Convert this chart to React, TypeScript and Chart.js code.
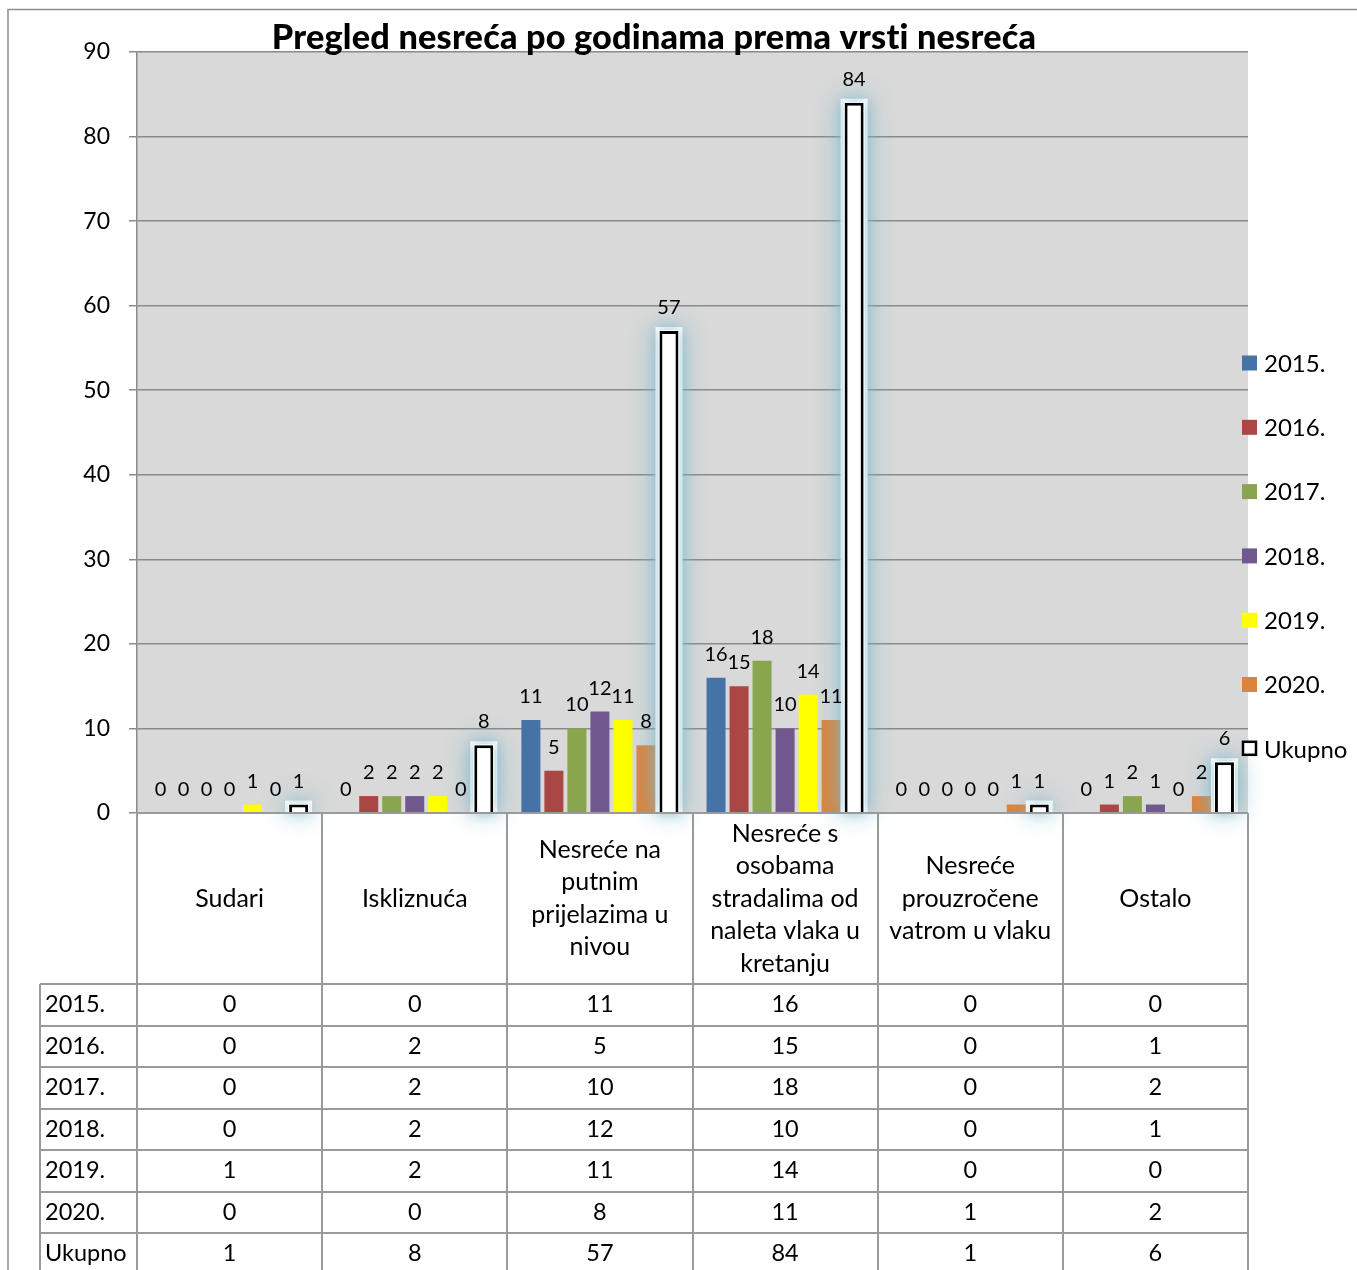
import React, { useEffect, useRef } from 'react';
import { Chart, registerables } from 'chart.js';

Chart.register(...registerables);

// ---------- data ----------
const titleText = 'Pregled nesreća po godinama prema vrsti nesreća';
const categories = [
  'Sudari',
  'Iskliznuća',
  'Nesreće na putnim prijelazima u nivou',
  'Nesreće s osobama stradalima od naleta vlaka u kretanju',
  'Nesreće prouzročene vatrom u vlaku',
  'Ostalo',
];
const categoryLines = [
  ['Sudari'],
  ['Iskliznuća'],
  ['Nesreće na', 'putnim', 'prijelazima u', 'nivou'],
  ['Nesreće s', 'osobama', 'stradalima od', 'naleta vlaka u', 'kretanju'],
  ['Nesreće', 'prouzročene', 'vatrom u vlaku'],
  ['Ostalo'],
];
const seriesNames = ['2015.', '2016.', '2017.', '2018.', '2019.', '2020.', 'Ukupno'];
const v2015 = [0, 0, 11, 16, 0, 0];
const v2016 = [0, 2, 5, 15, 0, 1];
const v2017 = [0, 2, 10, 18, 0, 2];
const v2018 = [0, 2, 12, 10, 0, 1];
const v2019 = [1, 2, 11, 14, 0, 0];
const v2020 = [0, 0, 8, 11, 1, 2];
const vUkupno = [1, 8, 57, 84, 1, 6];
const seriesValues = [v2015, v2016, v2017, v2018, v2019, v2020, vUkupno];
const seriesColors = ['#4572A7', '#AA4643', '#89A54E', '#71588F', '#FFFF00', '#DB843D', '#FFFFFF'];
const yMin = 0;
const yMax = 90;
const yStep = 10;

const FONT = 'Lato, "Noto Sans", sans-serif';
const LINE = '#9a9a9a';

const bgPlugin = {
  id: 'bgPlugin',
  beforeDraw(chart: any) {
    const { ctx, chartArea } = chart;
    ctx.save();
    ctx.fillStyle = '#ffffff';
    ctx.fillRect(0, 0, chart.width, chart.height);
    ctx.strokeStyle = '#8c8c8c';
    ctx.lineWidth = 1.5;
    ctx.beginPath();
    ctx.moveTo(8, chart.height);
    ctx.lineTo(8, 9.5);
    ctx.lineTo(chart.width, 9.5);
    ctx.stroke();
    ctx.fillStyle = '#d9d9d9';
    ctx.fillRect(chartArea.left, chartArea.top, chartArea.right - chartArea.left, chartArea.bottom - chartArea.top);
    ctx.restore();
  },
};

const glowLabelPlugin = {
  id: 'glowLabelPlugin',
  afterDatasetsDraw(chart: any) {
    const { ctx } = chart;
    const totalIdx = seriesValues.length - 1;
    const meta = chart.getDatasetMeta(totalIdx);
    meta.data.forEach((el: any) => {
      const p = el.getProps(['x', 'y', 'base', 'width'], true);
      ctx.save();
      ctx.shadowColor = 'rgba(125,185,205,0.85)';
      ctx.fillStyle = '#ffffff';
      ctx.shadowBlur = 26;
      ctx.fillRect(p.x - p.width / 2 - 4, p.y - 4, p.width + 8, p.base - p.y + 4);
      ctx.shadowBlur = 12;
      ctx.fillRect(p.x - p.width / 2 - 1, p.y - 1, p.width + 2, p.base - p.y + 1);
      ctx.restore();
      el.draw(ctx, chart.chartArea);
    });
    ctx.save();
    ctx.font = `20px ${FONT}`;
    ctx.fillStyle = '#000';
    ctx.textAlign = 'center';
    ctx.textBaseline = 'alphabetic';
    seriesValues.forEach((vals, di) => {
      const m = chart.getDatasetMeta(di);
      m.data.forEach((el: any, i: number) => {
        const p = el.getProps(['x', 'y'], true);
        ctx.fillText(String(vals[i]), p.x, p.y - 17);
      });
    });
    ctx.restore();
  },
};

const decorPlugin = {
  id: 'decorPlugin',
  afterDraw(chart: any) {
    const { ctx, chartArea } = chart;
    const xs = chart.scales.x;
    const n = categories.length;
    const cw = (chartArea.right - chartArea.left) / n;
    const top = chartArea.bottom;
    const headerBottom = 984;
    const rowH = 41.5;
    const labelLeft = 40;
    const H = chart.height;
    ctx.save();
    // table lines
    ctx.strokeStyle = LINE;
    ctx.lineWidth = 2;
    ctx.beginPath();
    for (let i = 0; i <= n; i++) {
      const x = Math.round(xs.getPixelForValue(0) - cw / 2 + i * cw);
      ctx.moveTo(x, top);
      ctx.lineTo(x, H);
    }
    ctx.moveTo(labelLeft, headerBottom);
    ctx.lineTo(labelLeft, H);
    ctx.moveTo(chartArea.left, top);
    ctx.lineTo(chartArea.right, top);
    for (let r = 0; r < seriesNames.length; r++) {
      const y = Math.round(headerBottom + r * rowH);
      ctx.moveTo(labelLeft, y);
      ctx.lineTo(chartArea.right, y);
    }
    ctx.stroke();
    // header labels
    ctx.fillStyle = '#000';
    ctx.textAlign = 'center';
    ctx.textBaseline = 'middle';
    ctx.font = `25px ${FONT}`;
    const lh = 32.5;
    categoryLines.forEach((lines, i) => {
      const cx = xs.getPixelForValue(i);
      const cy = (top + headerBottom) / 2;
      const y0 = cy - ((lines.length - 1) * lh) / 2;
      lines.forEach((t, k) => ctx.fillText(t, cx, y0 + k * lh));
    });
    // rows
    ctx.font = `23.5px ${FONT}`;
    seriesNames.forEach((name, r) => {
      const cy = headerBottom + r * rowH + rowH / 2;
      ctx.textAlign = 'left';
      ctx.fillText(name, labelLeft + 5, cy);
      ctx.textAlign = 'center';
      seriesValues[r].forEach((v, i) => {
        ctx.fillText(String(v), xs.getPixelForValue(i), cy);
      });
    });
    // legend
    ctx.font = `24px ${FONT}`;
    ctx.textAlign = 'left';
    seriesNames.forEach((name, i) => {
      const cy = 363 + i * 64.3;
      const isTotal = i === seriesNames.length - 1;
      if (isTotal) {
        ctx.fillStyle = '#fff';
        ctx.fillRect(1243, cy - 7, 13, 13);
        ctx.strokeStyle = '#000';
        ctx.lineWidth = 2.5;
        ctx.strokeRect(1243, cy - 7, 13, 13);
      } else {
        ctx.fillStyle = seriesColors[i];
        ctx.fillRect(1242, cy - 7.5, 15, 15);
      }
      ctx.fillStyle = '#000';
      ctx.fillText(name, 1264, cy + 1);
    });
    // title
    try {
      (ctx as any).letterSpacing = '0.2px';
    } catch (e) {
      /* ignore */
    }
    let fs = 30;
    ctx.font = `900 ${fs}px ${FONT}`;
    const w = ctx.measureText(titleText).width;
    fs = (fs * 766) / w;
    ctx.font = `900 ${fs}px ${FONT}`;
    ctx.textAlign = 'center';
    ctx.fillText(titleText, 654, 38);
    ctx.restore();
  },
};

export default function App() {
  const ref = useRef<HTMLCanvasElement | null>(null);
  useEffect(() => {
    if (!ref.current) return;
    const chart = new Chart(ref.current, {
      type: 'bar',
      data: {
        labels: categories,
        datasets: seriesValues.map((vals, i) => ({
          label: seriesNames[i],
          data: vals,
          backgroundColor: seriesColors[i],
          borderColor: i === seriesValues.length - 1 ? '#000000' : seriesColors[i],
          borderWidth: i === seriesValues.length - 1 ? 3 : 0,
          categoryPercentage: 0.87,
          barPercentage: 0.826,
        })),
      },
      options: {
        responsive: false,
        animation: false,
        layout: { padding: { left: 0, right: 109, top: 52, bottom: 457 } },
        plugins: {
          legend: { display: false },
          title: { display: false },
          tooltip: { enabled: false },
        },
        scales: {
          x: { display: false },
          y: {
            min: yMin,
            max: yMax,
            afterFit: (scale: any) => {
              scale.width = 137;
            },
            ticks: {
              stepSize: yStep,
              color: '#000',
              font: { family: FONT, size: 23 },
              padding: 19,
            },
            grid: { color: '#8a8a8a', lineWidth: 1.5, tickLength: 8, drawTicks: true },
            border: { display: true, color: '#8a8a8a', width: 1.5 },
          },
        },
      },
      plugins: [bgPlugin, glowLabelPlugin, decorPlugin],
    } as any);
    return () => chart.destroy();
  }, []);
  return (
    <div style={{ position: 'absolute', left: 0, top: 0, width: 1357, height: 1270, overflow: 'hidden' }}>
      <canvas ref={ref} width={1357} height={1270} style={{ display: 'block' }} />
    </div>
  );
}
